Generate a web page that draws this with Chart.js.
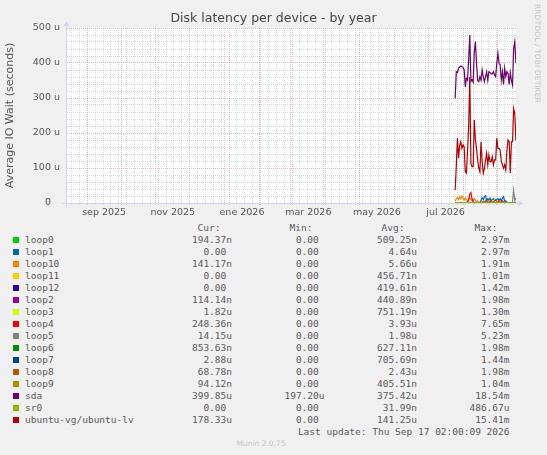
<!DOCTYPE html>
<html><head><meta charset="utf-8">
<script src="https://cdn.jsdelivr.net/npm/chart.js@4.4.1/dist/chart.umd.min.js"></script>
<style>
html,body{margin:0;padding:0;background:#f0f0f0;}
body{width:547px;height:455px;position:relative;overflow:hidden;font-family:"DejaVu Sans Mono",monospace;}
#wrap{position:absolute;left:0;top:0;width:547px;height:222px;}
.lg{position:absolute;font-size:9.5px;line-height:12px;height:12px;color:#5a5a5a;white-space:pre;}
.sw{position:absolute;width:6px;height:6px;}
#rrd{position:absolute;left:533px;top:4px;writing-mode:vertical-rl;font-family:"DejaVu Sans",sans-serif;font-size:7.5px;color:#c4c4c4;letter-spacing:0.1px;}
#munin{position:absolute;top:438px;left:0;width:522px;text-align:center;font-family:"DejaVu Sans",sans-serif;font-size:7.5px;line-height:12px;color:#c8c8c8;}
</style></head><body>
<div id="wrap"><canvas id="c"></canvas></div>
<div id="rrd">RRDTOOL / TOBI OETIKER</div>
<div id="legend"></div>
<div id="munin">Munin 2.0.75</div>
<script>
// ---------- data (values in microseconds) ----------
const dates = ['2026-07-25','2026-07-26','2026-07-27','2026-07-28','2026-07-29','2026-07-30','2026-07-31',
 '2026-08-01','2026-08-02','2026-08-03','2026-08-04','2026-08-05','2026-08-06','2026-08-07','2026-08-08',
 '2026-08-09','2026-08-10','2026-08-11','2026-08-12','2026-08-13','2026-08-14','2026-08-15','2026-08-16',
 '2026-08-17','2026-08-18','2026-08-19','2026-08-20','2026-08-21','2026-08-22','2026-08-23','2026-08-24',
 '2026-08-25','2026-08-26','2026-08-27','2026-08-28','2026-08-29','2026-08-30','2026-08-31','2026-09-01',
 '2026-09-02','2026-09-03','2026-09-04','2026-09-05','2026-09-06','2026-09-07','2026-09-08','2026-09-09',
 '2026-09-10','2026-09-11','2026-09-12','2026-09-13','2026-09-14','2026-09-15','2026-09-16','2026-09-17'];

const loop0 = [1,1.2,0.8,1,1.5,0.9,1.1,1,0.7,1.3,1,
 0.8,1.2,1,0.9,1.1,0.6,1,1.4,0.8,1,0.9,
 1.2,0.7,1,1.1,0.8,1.3,0.9,1,0.7,1.2,1,
 0.8,1.1,0.9,1,0.6,1.2,1,0.8,1.1,0.9,1,
 0.7,1.3,1,0.8,1,0.9,1.1,0.7,1,0.8,0.19];
const loop1 = [0.3,0.2,0.4,0.3,0.2,0.5,0.3,0.2,0.4,0.3,0.2,
 0.3,0.4,0.3,0.2,0.3,0.5,0.3,0.2,0.4,0.3,0.6,
 1.5,8,15,10,18,21,6,12,8,14,5,
 10,12,6,8,10,12,8,12,6,14,18,
 4,6,2,1,1,0.5,0.5,0.3,0.2,0.1,0];
const loop10 = [5,12,15,10,18,12,20,15,8,14,10,
 5,12,14,10,8,5,12,8,4,6,2,
 1,1,2,1,0.5,1,0.5,0.5,1,0.5,0.3,
 0.5,0.3,0.5,0.3,0.3,0.5,0.3,0.3,0.2,0.3,0.2,
 0.3,0.2,0.2,0.3,0.2,0.2,0.2,0.2,0.3,0.2,0.14];
const loop11 = [0.5,0.4,0.6,0.3,0.5,0.4,0.7,0.4,0.3,0.5,0.4,
 0.6,0.5,0.4,0.3,0.5,0.6,0.4,0.5,0.3,0.4,0.5,
 0.6,0.4,0.3,0.5,0.4,0.5,0.3,0.4,0.6,0.5,0.4,
 0.3,0.5,0.4,0.6,0.4,0.3,0.5,0.4,0.5,0.3,0.4,
 0.6,0.4,0.5,0.3,0.4,0.5,0.4,0.3,0.5,0.2,0];
const loop12 = [0.4,0.3,0.5,0.4,0.3,0.6,0.4,0.3,0.5,0.4,0.3,
 0.5,0.4,0.6,0.3,0.4,0.5,0.3,0.4,0.6,0.4,0.3,
 0.5,0.4,0.3,0.6,0.4,0.5,0.3,0.4,0.5,0.4,0.3,
 0.6,0.4,0.3,0.5,0.4,0.6,0.3,0.4,0.5,0.4,0.3,
 0.5,0.4,0.3,0.6,0.4,0.5,0.3,0.4,0.3,0.2,0];
const loop2 = [0.4,0.5,0.3,0.4,0.6,0.4,0.3,0.5,0.4,0.3,0.5,
 0.4,0.6,0.3,0.4,0.5,0.4,0.3,0.6,0.4,0.5,0.3,
 0.4,0.5,0.6,0.3,0.4,0.5,0.4,0.3,0.5,0.6,0.4,
 0.3,0.4,0.5,0.4,0.6,0.3,0.4,0.5,0.3,0.4,0.6,
 0.4,0.3,0.5,0.4,0.3,0.5,0.4,0.6,0.3,0.2,0.11];
const loop3 = [0.7,0.8,0.6,0.9,0.7,0.8,0.6,0.7,0.9,0.8,0.6,
 0.7,0.8,1,0.7,0.6,0.8,0.7,0.9,0.6,0.8,0.7,
 0.6,0.9,0.7,0.8,0.6,0.7,0.8,0.9,0.6,0.7,0.8,
 0.7,0.6,0.9,0.8,0.7,0.6,0.8,0.7,0.9,0.6,0.8,
 0.7,0.6,0.8,0.9,0.7,0.8,0.6,0.7,0.9,1.2,1.82];
const loop4 = [0,0,0.2,0,0,0.5,0,0,0.3,0,0.2,
 3,8,25,30,12,3,1,0.3,0,0.2,0,
 0,0.3,0,0,0.2,0,0,0.3,0,0,0.2,
 0,0,0.3,0,0,0.2,0,0,4,6,2,
 0.3,0,0,0.2,0,0,0.3,0,0,0.1,0.25];
const loop5 = [0,0.1,0,0,0.2,0,0,0.1,0,0,0.2,
 0,0,0.1,0,0,0.2,0,0.1,0,0,0.1,
 0,0.2,0,0,0.1,0,0,0.2,0,0.1,0,
 0,0.1,0,0.2,0,0,0.1,0,0,0.2,0,
 0.1,0,0,0.2,0,0.3,0.5,2,37,8,14.15];
const loop6 = [1.2,1,1.4,0.9,1.3,1.1,1.5,1,1.2,0.8,1.3,
 1.1,1.4,1,1.2,0.9,1.3,1.1,1,1.4,1.2,0.9,
 1.3,1,1.2,1.5,1.1,0.9,1.3,1,1.2,1.4,1,
 0.9,1.3,1.1,1.2,1,1.4,0.9,1.2,1.1,1.3,1,
 1.2,0.9,1.4,1.1,1,1.3,1.2,0.9,1.1,1,0.85];
const loop7 = [0.3,0.4,0.2,0.5,0.3,0.4,0.2,0.3,0.5,0.4,0.3,
 0.2,0.4,0.3,0.5,0.3,0.2,0.4,0.3,0.5,0.4,0.6,
 0.8,1.5,2,3,4,2.5,5,3,2,3.5,1.5,
 2,1,0.8,0.5,0.6,0.4,0.3,0.5,0.4,0.3,0.6,
 0.4,0.3,0.5,0.4,0.3,0.6,0.4,0.5,1,2,2.88];
const loop8 = [0.5,0.4,0.6,0.5,0.3,0.5,0.6,0.4,0.5,0.3,0.6,
 0.5,0.4,0.5,0.6,0.4,0.5,0.3,0.6,0.5,0.4,0.5,
 0.6,0.8,3,5,2,6,8,3,2,4,7,
 2,3,5,9,4,2,6,3,2,5,3,
 2,0.8,0.5,0.6,0.4,0.5,0.3,0.4,0.2,0.1,0.07];
const loop9 = [1,0.8,1.2,0.9,1.1,1,0.7,1.3,0.9,1,0.8,
 1.1,0.9,1.2,1,0.8,1.1,0.9,1.3,1,0.8,1.2,
 1,1.5,2,1.2,3,1.5,1,2.5,1.2,1,0.9,
 1.1,1,1.3,0.8,1,1.2,0.9,1.1,1,0.8,1.2,
 1,0.9,1.1,0.8,1,1.2,0.9,1,0.8,0.5,0.09];
const sda = [299,375,373,385,388,391,390,387,380,332,356,
 351,410,480,347,352,345,430,461,399,350,347,
 361,351,380,360,347,361,375,351,375,373,369,
 369,375,366,361,400,428,399,395,351,375,339,
 385,361,375,370,339,373,350,337,442,461,399.85];
const sr0 = [0.03,0.04,0.02,0.03,0.05,0.03,0.02,0.04,0.03,0.02,0.03,
 0.04,0.03,0.02,0.05,0.03,0.04,0.02,0.03,0.04,0.03,0.02,
 0.03,0.05,0.03,0.02,0.04,0.03,0.02,0.03,0.04,0.03,0.02,
 0.05,0.03,0.04,0.02,0.03,0.04,0.03,0.02,0.03,0.05,0.03,
 0.02,0.04,0.03,0.02,0.03,0.04,0.03,0.02,0.03,0.01,0];
const ubuntuLv = [37,104,185,128,165,175,156,166,160,89,85,
 147,218,360,113,104,104,237,180,156,123,100,
 89,175,120,85,99,120,142,109,137,118,118,
 132,109,123,123,185,156,156,151,120,109,99,
 109,94,150,180,175,85,175,175,270,256,178.33];

const names  = ['loop0','loop1','loop10','loop11','loop12','loop2','loop3','loop4','loop5','loop6','loop7','loop8','loop9','sda','sr0','ubuntu-vg/ubuntu-lv'];
const colors = ['#00CC00','#0066B3','#FF8000','#FFCC00','#330099','#990099','#CCFF00','#FF0000','#808080','#008F00','#00487D','#B35A00','#B38F00','#6B006B','#8FB300','#B30000'];
const values = [loop0,loop1,loop10,loop11,loop12,loop2,loop3,loop4,loop5,loop6,loop7,loop8,loop9,sda,sr0,ubuntuLv];

const curText = ['194.37n','0.00','141.17n','0.00','0.00','114.14n','1.82u','248.36n','14.15u','853.63n','2.88u','68.78n','94.12n','399.85u','0.00','178.33u'];
const minText = ['0.00','0.00','0.00','0.00','0.00','0.00','0.00','0.00','0.00','0.00','0.00','0.00','0.00','197.20u','0.00','0.00'];
const avgText = ['509.25n','4.64u','5.66u','456.71n','419.61n','440.89n','751.19n','3.93u','1.98u','627.11n','705.69n','2.43u','405.51n','375.42u','31.99n','141.25u'];
const maxText = ['2.97m','2.97m','1.91m','1.01m','1.42m','1.98m','1.30m','7.65m','5.23m','1.98m','1.44m','1.98m','1.04m','18.54m','486.67u','15.41m'];

const yTickLabels = {0:'0', 100:'100 u', 200:'200 u', 300:'300 u', 400:'400 u', 500:'500 u'};
const xLabelMonths = ['2025-09','2025-11','2026-01','2026-03','2026-05','2026-07'];
const xTickLabels  = ['sep 2025','nov 2025','ene 2026','mar 2026','may 2026','jul 2026'];
const titleText = 'Disk latency per device - by year';
const yTitle = 'Average IO Wait (seconds)';
const lastUpdate = 'Last update: Thu Sep 17 02:00:09 2026';

// ---------- time axis helpers ----------
const DAY = 86400000;
const tStart = Date.UTC(2025,7,13,2,0,0);
const tEnd   = Date.UTC(2026,8,17,2,0,0);
const toX = t => (t - tStart) / DAY;

const majorX = [], minorX = [], labelX = {};
for (let y=2025, m=7; ; ) {
  const t = Date.UTC(y,m,1);
  if (t > tEnd) break;
  if (t >= tStart) majorX.push(toX(t));
  m++; if (m>11){m=0;y++;}
}
for (let t = Date.UTC(2025,7,18); t <= tEnd; t += 7*DAY) {
  const x = toX(t);
  if (!majorX.some(v => Math.abs(v-x) < 0.5)) minorX.push(x);
}
xLabelMonths.forEach((s,i) => {
  const [yy,mm] = s.split('-').map(Number);
  const a = Date.UTC(yy,mm-1,1), b = Date.UTC(yy,mm,1);
  labelX[toX((a+b)/2).toFixed(4)] = xTickLabels[i];
});

const MAJOR = 'rgba(225,100,100,0.42)';
const MINOR = 'rgba(150,150,150,0.32)';
const AXIS = '#CFD6F8';

const datasets = names.map((n,i) => ({
  label: n,
  data: dates.map((d,j) => ({x: toX(Date.parse(d+'T00:00:00Z')), y: values[i][j]})),
  borderColor: colors[i],
  backgroundColor: colors[i],
  borderWidth: 1.2,
  pointRadius: 0,
  tension: 0,
  fill: false,
  order: -i
}));

const bgPlugin = {
  id: 'bg',
  beforeDraw(chart) {
    const {ctx, chartArea: a} = chart;
    ctx.save(); ctx.fillStyle = '#ffffff';
    ctx.fillRect(a.left, a.top, a.right - a.left, a.bottom - a.top);
    ctx.restore();
  }
};
const arrowPlugin = {
  id: 'arrows',
  afterDraw(chart) {
    const {ctx, chartArea: a} = chart;
    const L = Math.round(a.left) + 0.5, B = Math.round(a.bottom) + 0.5;
    ctx.save();
    ctx.strokeStyle = AXIS; ctx.fillStyle = AXIS; ctx.lineWidth = 1;
    ctx.beginPath();
    ctx.moveTo(L, B + 4); ctx.lineTo(L, a.top - 2);
    ctx.moveTo(L - 4, B); ctx.lineTo(a.right + 2, B);
    ctx.stroke();
    ctx.beginPath();
    ctx.moveTo(L, a.top - 7); ctx.lineTo(L - 3, a.top - 2); ctx.lineTo(L + 3, a.top - 2); ctx.closePath(); ctx.fill();
    ctx.beginPath();
    ctx.moveTo(a.right + 7, B); ctx.lineTo(a.right + 2, B - 3); ctx.lineTo(a.right + 2, B + 3); ctx.closePath(); ctx.fill();
    ctx.restore();
  }
};

new Chart(document.getElementById('c'), {
  type: 'line',
  data: { datasets },
  plugins: [bgPlugin, arrowPlugin],
  options: {
    responsive: true,
    maintainAspectRatio: false,
    animation: false,
    events: [],
    layout: { padding: 0 },
    plugins: {
      legend: { display: false },
      tooltip: { enabled: false },
      title: {
        display: true, text: titleText, color: '#444',
        font: { family: 'DejaVu Sans', size: 12.5, weight: 'normal', lineHeight: 1.2 },
        padding: { top: 11, bottom: 2 }
      }
    },
    scales: {
      x: {
        type: 'linear', min: 0, max: 400,
        afterBuildTicks(scale) {
          const vals = [...majorX, ...minorX, ...Object.keys(labelX).map(Number)].sort((a,b)=>a-b);
          scale.ticks = vals.map(v => ({ value: v }));
        },
        afterFit(scale) { scale.height = 19; },
        ticks: {
          autoSkip: false, maxRotation: 0, minRotation: 0, padding: 1,
          color: '#555', font: { family: 'DejaVu Sans', size: 9.5 },
          callback: (v) => labelX[Number(v).toFixed(4)] || ''
        },
        grid: {
          drawTicks: true, tickLength: 3,
          color: (ctx) => {
            const v = ctx.tick ? ctx.tick.value : null;
            if (v === null) return 'transparent';
            if (majorX.some(m => Math.abs(m - v) < 1e-6)) return MAJOR;
            if (minorX.some(m => Math.abs(m - v) < 1e-6)) return MINOR;
            return 'transparent';
          },
          tickBorderDash: [1,1]
        },
        border: { display: true, color: AXIS, dash: [1,1] }
      },
      y: {
        min: 0, max: 500,
        afterFit(scale) { scale.width = 66; },
        ticks: {
          stepSize: 20, autoSkip: false, padding: 6,
          color: '#555', font: { family: 'DejaVu Sans', size: 9.5 },
          callback: (v) => (v in yTickLabels) ? (v === 0 ? '0   ' : yTickLabels[v]) : ''
        },
        grid: {
          drawTicks: false,
          color: (ctx) => {
            const v = ctx.tick ? ctx.tick.value : 0;
            if (v === 0) return 'transparent';
            return (v % 100 === 0) ? MAJOR : MINOR;
          }
        },
        border: { display: true, color: AXIS, dash: [1,1] },
        title: {
          display: true, text: yTitle, color: '#555',
          font: { family: 'DejaVu Sans', size: 11 },
          padding: { top: 4, bottom: 0 }
        }
      },
      yRight: {
        position: 'right', min: 0, max: 1,
        afterFit(scale) { scale.width = 31; },
        ticks: { display: false },
        grid: { display: false, drawTicks: false },
        border: { display: false }
      }
    }
  }
});

// ---------- legend (HTML text) ----------
const lg = document.getElementById('legend');
function cell(text, rightEdge, top) {
  const d = document.createElement('div');
  d.className = 'lg';
  d.style.right = (547 - rightEdge) + 'px';
  d.style.top = top + 'px';
  d.style.textAlign = 'right';
  d.textContent = text;
  lg.appendChild(d);
}
function pad(s) { return /[0-9]$/.test(s) ? s + ' ' : s; }
const headTop = 221.5;
cell('Cur:', 220.5, headTop);
cell('Min:', 312.5, headTop);
cell('Avg:', 404.5, headTop);
cell('Max:', 497.5, headTop);
names.forEach((n,i) => {
  const top = 233.7 + 12*i;
  const sw = document.createElement('div');
  sw.className = 'sw'; sw.style.left = '13px'; sw.style.top = (top + 3) + 'px';
  sw.style.background = colors[i];
  lg.appendChild(sw);
  const nm = document.createElement('div');
  nm.className = 'lg'; nm.style.left = '25px'; nm.style.top = top + 'px';
  nm.textContent = n;
  lg.appendChild(nm);
  cell(pad(curText[i]), 232, top);
  cell(pad(minText[i]), 324.5, top);
  cell(pad(avgText[i]), 417, top);
  cell(pad(maxText[i]), 509.5, top);
});
cell(lastUpdate, 509.5, 425.7);
</script>
</body></html>
